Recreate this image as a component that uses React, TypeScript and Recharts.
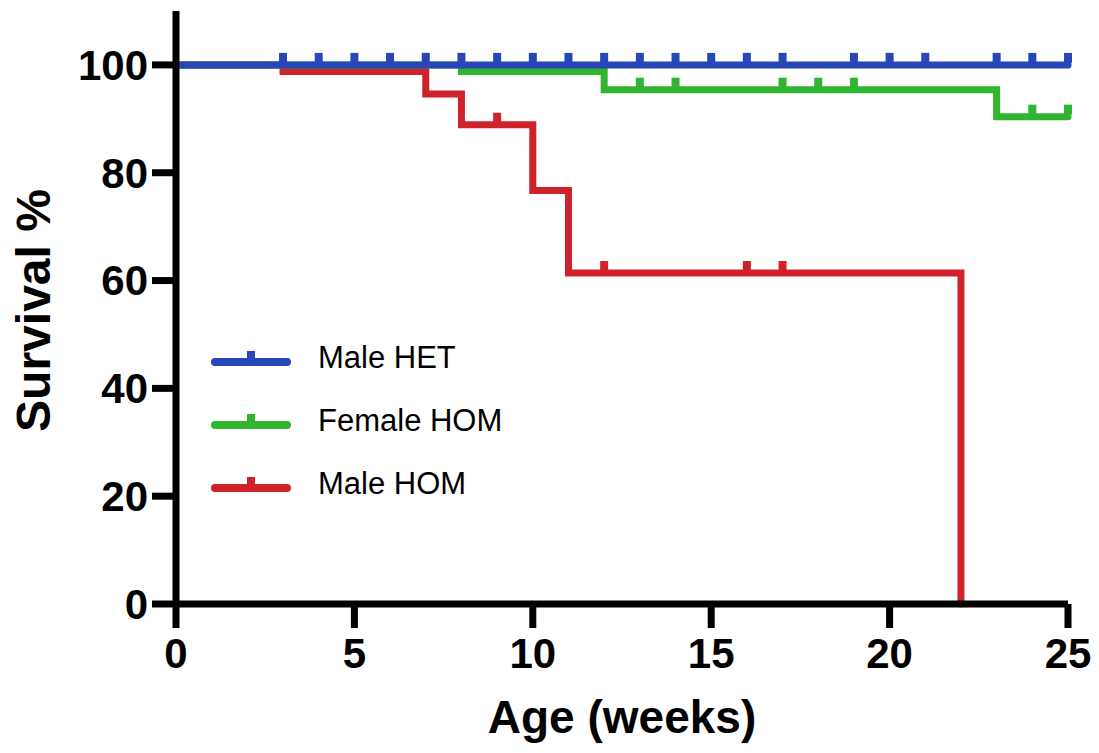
import { ComposedChart, Line, Scatter, XAxis, YAxis } from "recharts";

const xTicks = [0, 5, 10, 15, 20, 25];
const yTicks = [0, 20, 40, 60, 80, 100];

// Kaplan-Meier steps (weeks, survival %)
const maleHetTimes = [0, 25];
const maleHetSurvival = [100, 100];
const maleHetCensored = [3, 4, 5, 6, 7, 8, 9, 10, 11, 12, 13, 14, 15, 16, 17, 19, 20, 21, 23, 24, 25];

const femaleHomTimes = [0, 8, 12, 23, 25];
const femaleHomSurvival = [100, 98.8, 95.4, 90.4, 90.4];
const femaleHomCensored = [13, 14, 17, 18, 19, 24, 25];

const maleHomTimes = [0, 3, 7, 8, 10, 11, 22];
const maleHomSurvival = [100, 98.8, 94.6, 88.9, 76.7, 61.4, 0];
const maleHomCensored = [9, 12, 16, 17];

const FONT = '"Liberation Sans", Arial, sans-serif';

const toSteps = (times: number[], surv: number[]) =>
  times.map((t, i) => ({ t, s: surv[i] }));

const survivalAt = (times: number[], surv: number[], t: number) => {
  let v = surv[0];
  times.forEach((tt, i) => {
    if (tt <= t) v = surv[i];
  });
  return v;
};

const toCensor = (times: number[], surv: number[], censored: number[]) =>
  censored.map((t) => ({ t, s: survivalAt(times, surv, t) }));

const series = [
  {
    name: "Male HET",
    color: "#2747B8",
    steps: toSteps(maleHetTimes, maleHetSurvival),
    censor: toCensor(maleHetTimes, maleHetSurvival, maleHetCensored),
  },
  {
    name: "Female HOM",
    color: "#2FB52F",
    steps: toSteps(femaleHomTimes, femaleHomSurvival),
    censor: toCensor(femaleHomTimes, femaleHomSurvival, femaleHomCensored),
  },
  {
    name: "Male HOM",
    color: "#D0222A",
    steps: toSteps(maleHomTimes, maleHomSurvival),
    censor: toCensor(maleHomTimes, maleHomSurvival, maleHomCensored),
  },
];

const censorShape = (color: string) => (props: any) => (
  <rect x={props.cx - 4} y={props.cy - 12} width={8} height={10} fill={color} />
);

const tickStyle = { fill: "#000", fontSize: 42, fontWeight: 700, fontFamily: FONT };
const tickLine = { stroke: "#000", strokeWidth: 7 };

function LegendBox() {
  return (
    <div
      style={{
        position: "absolute",
        left: 211,
        top: 326,
        fontFamily: FONT,
        fontSize: 31,
        color: "#000",
      }}
    >
      {series.map((s) => (
        <div key={s.name} style={{ display: "flex", alignItems: "center", height: 63 }}>
          <svg width={80} height={24}>
            <line x1={4} y1={16} x2={76} y2={16} stroke={s.color} strokeWidth={8} strokeLinecap="round" />
            <rect x={36} y={5} width={8} height={10} fill={s.color} />
          </svg>
          <span style={{ marginLeft: 27 }}>{s.name}</span>
        </div>
      ))}
    </div>
  );
}

export default function App() {
  return (
    <div style={{ position: "absolute", left: 0, top: 0, width: 1099, height: 753, background: "#fff" }}>
      <ComposedChart
        width={1099}
        height={753}
        margin={{ top: 11, right: 31, bottom: 0, left: 0 }}
      >
        <XAxis
          dataKey="t"
          type="number"
          domain={[0, 25]}
          ticks={xTicks}
          height={149}
          axisLine={{ stroke: "#000", strokeWidth: 7 }}
          tickLine={tickLine}
          tickSize={24}
          tickMargin={10}
          tick={tickStyle}
          allowDuplicatedCategory={false}
          label={{
            content: ({ viewBox }: any) => (
              <text
                x={viewBox.x + viewBox.width / 2}
                y={viewBox.y + 129}
                textAnchor="middle"
                fontFamily={FONT}
                fontWeight={700}
                fontSize={46}
                fill="#000"
              >
                Age (weeks)
              </text>
            ),
          }}
        />
        <YAxis
          type="number"
          domain={[0, 110]}
          ticks={yTicks}
          width={176}
          axisLine={{ stroke: "#000", strokeWidth: 7 }}
          tickLine={tickLine}
          tickSize={24}
          tickMargin={4}
          tick={tickStyle}
          label={{
            content: ({ viewBox }: any) => {
              const x = viewBox.x + 50;
              const y = viewBox.y + viewBox.height / 2 + 3;
              return (
                <text
                  x={x}
                  y={y}
                  transform={`rotate(-90, ${x}, ${y})`}
                  textAnchor="middle"
                  fontFamily={FONT}
                  fontWeight={700}
                  fontSize={48}
                  fill="#000"
                >
                  Survival %
                </text>
              );
            },
          }}
        />
        {[...series].reverse().map((s) => (
          <Line
            key={s.name}
            data={s.steps}
            dataKey="s"
            type="stepAfter"
            stroke={s.color}
            strokeWidth={7}
            strokeLinecap="round"
            dot={false}
            activeDot={false}
            legendType="none"
            isAnimationActive={false}
          />
        ))}
        {[...series].reverse().map((s) => (
          <Scatter
            key={s.name + "-c"}
            data={s.censor}
            dataKey="s"
            shape={censorShape(s.color)}
            legendType="none"
            isAnimationActive={false}
          />
        ))}
      </ComposedChart>
      <LegendBox />
    </div>
  );
}
